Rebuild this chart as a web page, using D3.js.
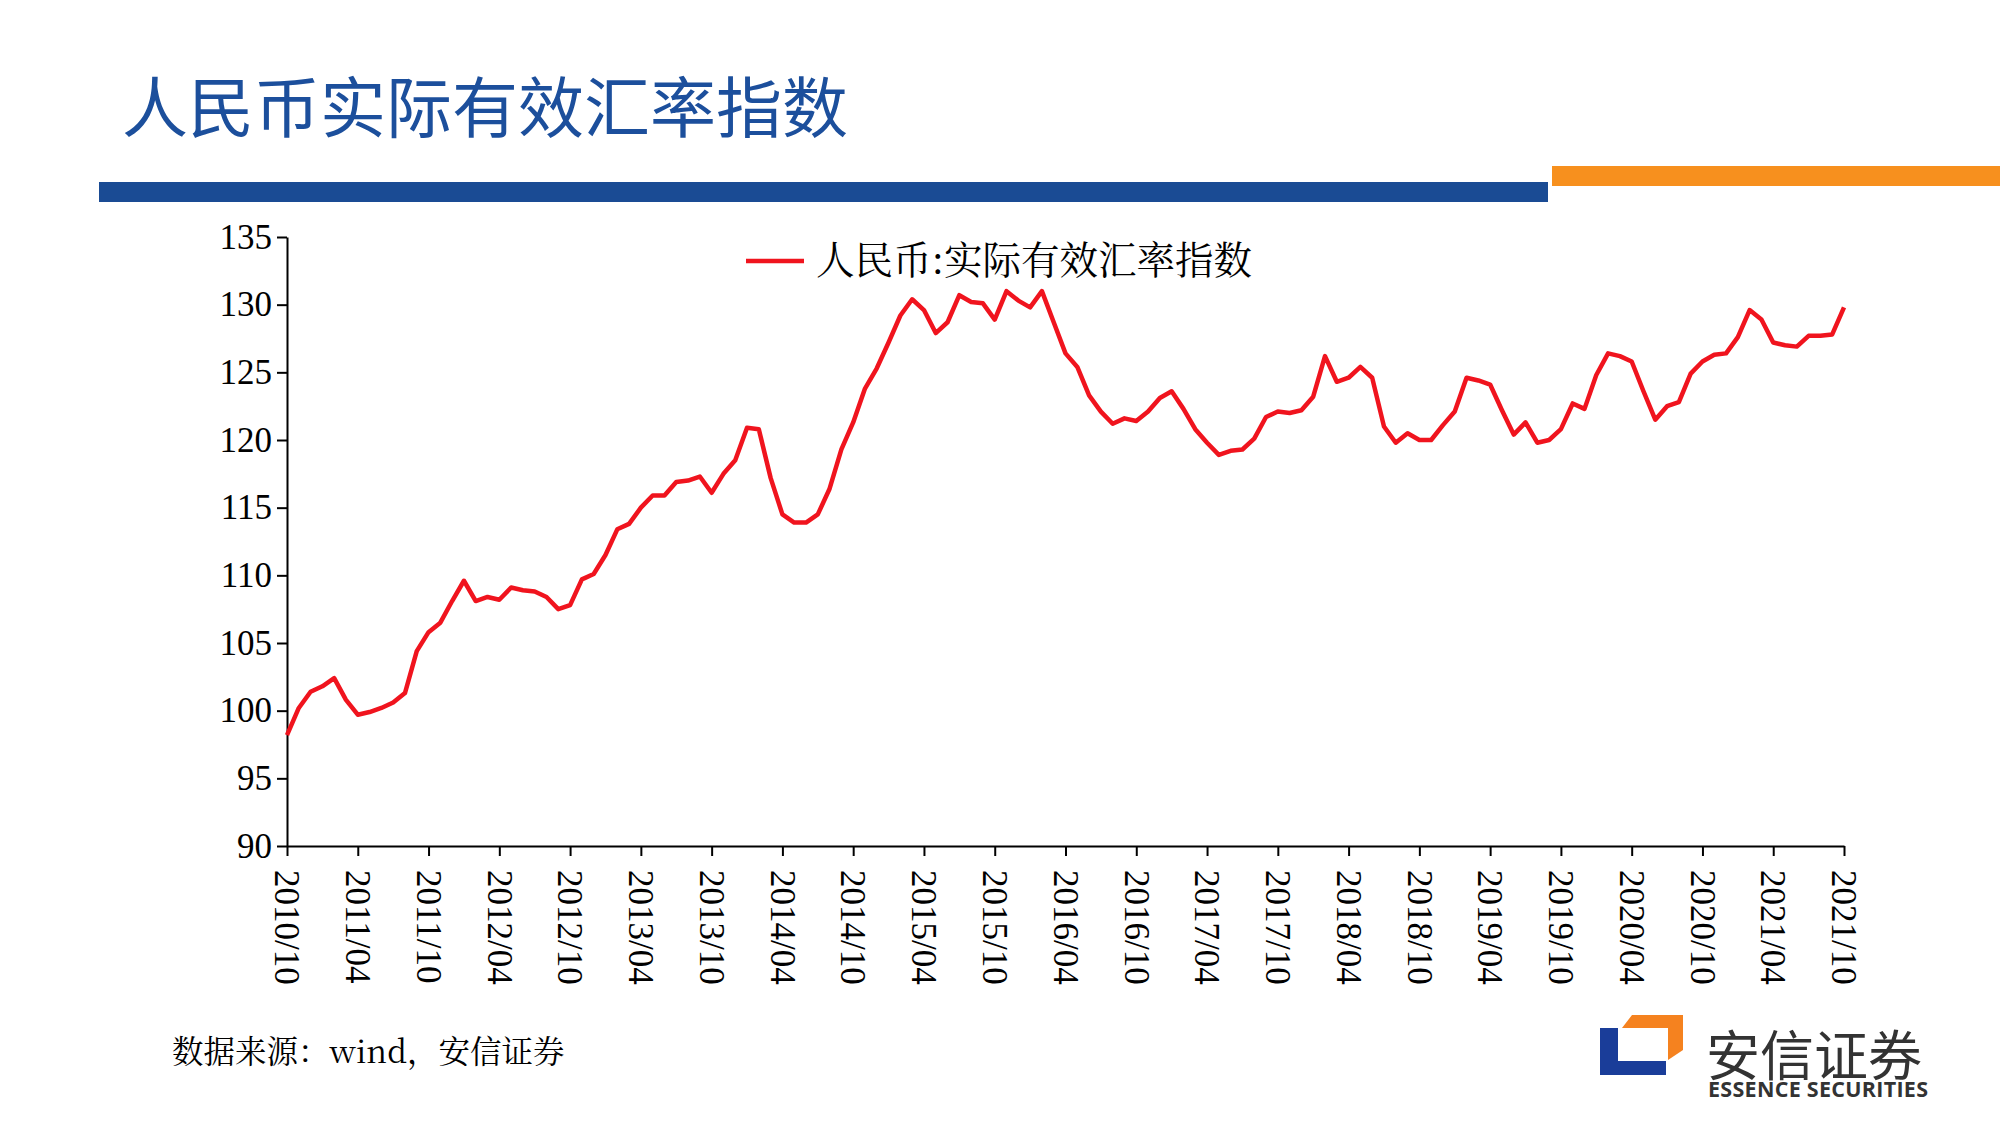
<!DOCTYPE html>
<html><head><meta charset="utf-8">
<script src="https://cdn.jsdelivr.net/npm/d3@7/dist/d3.min.js"></script>
<style>body{margin:0;background:#fff}svg{display:block}</style>
</head><body><svg id="c" width="2000" height="1125"></svg>
<script>
const startYear = 2010, startMonth = 10;
const values = [98.2,100.2,101.4,
101.8,102.4,100.8,99.7,99.9,100.2,100.6,101.3,104.4,105.8,106.5,108.1,
109.6,108.1,108.4,108.2,109.1,108.9,108.8,108.4,107.5,107.8,109.7,110.1,
111.5,113.4,113.8,115.0,115.9,115.9,116.9,117.0,117.3,116.1,117.5,118.5,
120.9,120.8,117.2,114.5,113.9,113.9,114.5,116.4,119.3,121.3,123.8,125.3,
127.2,129.2,130.4,129.6,127.9,128.7,130.7,130.2,130.1,128.9,131.0,130.3,
129.8,131.0,128.7,126.4,125.4,123.3,122.1,121.2,121.6,121.4,122.1,123.1,
123.6,122.3,120.8,119.8,118.9,119.2,119.3,120.1,121.7,122.1,122.0,122.2,
123.2,126.2,124.3,124.6,125.4,124.6,121.0,119.8,120.5,120.0,120.0,121.1,
122.1,124.6,124.4,124.1,122.2,120.4,121.3,119.8,120.0,120.8,122.7,122.3,
124.8,126.4,126.2,125.8,123.6,121.5,122.5,122.8,124.9,125.8,126.3,126.4,
127.6,129.6,128.9,127.2,127.0,126.9,127.7,127.7,127.8,129.8];
const yTicks = [90,95,100,105,110,115,120,125,130,135];
const xTickLabels = ["2010/10","2011/04","2011/10","2012/04","2012/10","2013/04","2013/10","2014/04","2014/10","2015/04","2015/10","2016/04","2016/10","2017/04","2017/10","2018/04","2018/10","2019/04","2019/10","2020/04","2020/10","2021/04","2021/10"];
const seriesName = "人民币:实际有效汇率指数";
const title = "人民币实际有效汇率指数";
const source = "数据来源：wind，安信证券";

const svg = d3.select("#c");
const L=287,R=1844,T=237,B=846;
const x = d3.scaleLinear().domain([0,values.length-1]).range([L,R]);
const y = d3.scaleLinear().domain([90,135]).range([B,T]);

svg.append("text").attr("x",122).attr("y",132).attr("font-family","Noto Sans CJK SC").attr("font-size",66).attr("fill","#1c4f9c").text(title);
svg.append("rect").attr("x",99).attr("y",182).attr("width",1449).attr("height",20).attr("fill","#1a4b94");
svg.append("rect").attr("x",1552).attr("y",166).attr("width",448).attr("height",20).attr("fill","#f7901e");

const serif = "'Liberation Serif','Times New Roman',serif";
const ya = svg.append("g").attr("transform",`translate(${L},0)`).call(d3.axisLeft(y).tickValues(yTicks).tickSize(10).tickSizeOuter(0));
ya.selectAll("text").attr("font-family",serif).attr("font-size",35).attr("fill","#000").attr("dx","-2");
const xi = xTickLabels.map((d,i)=>i*6);
const xa = svg.append("g").attr("transform",`translate(0,${B})`).call(d3.axisBottom(x).tickValues(xi).tickFormat((d,i)=>xTickLabels[i]).tickSize(10).tickSizeOuter(0));
xa.selectAll("text").attr("font-family",serif).attr("font-size",35).attr("fill","#000")
  .attr("transform","rotate(90)").attr("text-anchor","start").attr("x",24).attr("y",0).attr("dy","0.35em");
svg.selectAll(".domain,.tick line").attr("stroke","#000").attr("stroke-width",2);

svg.append("path").datum(values).attr("fill","none").attr("stroke","#f0141e").attr("stroke-width",4.5)
  .attr("stroke-linejoin","round").attr("d",d3.line().x((d,i)=>x(i)).y(d=>y(d)));

svg.append("line").attr("x1",746).attr("x2",804).attr("y1",261).attr("y2",261).attr("stroke","#f0141e").attr("stroke-width",4.5);
svg.append("text").attr("x",816).attr("y",274).attr("font-family","'Noto Serif CJK SC','Noto Sans CJK SC'").attr("font-size",38.5).text(seriesName);

svg.append("text").attr("x",172).attr("y",1063).attr("font-family","'Noto Serif CJK SC','Noto Sans CJK SC'").attr("font-size",31.5).text(source);

// logo
svg.append("path").attr("d","M1600,1028 H1618 V1061 H1666 V1075 H1600 Z").attr("fill","#1a3d99");
svg.append("path").attr("d","M1632,1015 H1683 V1050 L1668,1060 V1028 H1622 Z").attr("fill","#f5821f");
svg.append("text").attr("x",1706).attr("y",1076).attr("font-family","Noto Sans CJK SC").attr("font-size",54).attr("fill","#333").text("安信证券");
svg.append("text").attr("x",1708).attr("y",1097).attr("font-family","'Open Sans'").attr("font-weight","bold").attr("font-size",21.5).attr("fill","#333").attr("textLength",220).text("ESSENCE SECURITIES");
</script></body></html>
